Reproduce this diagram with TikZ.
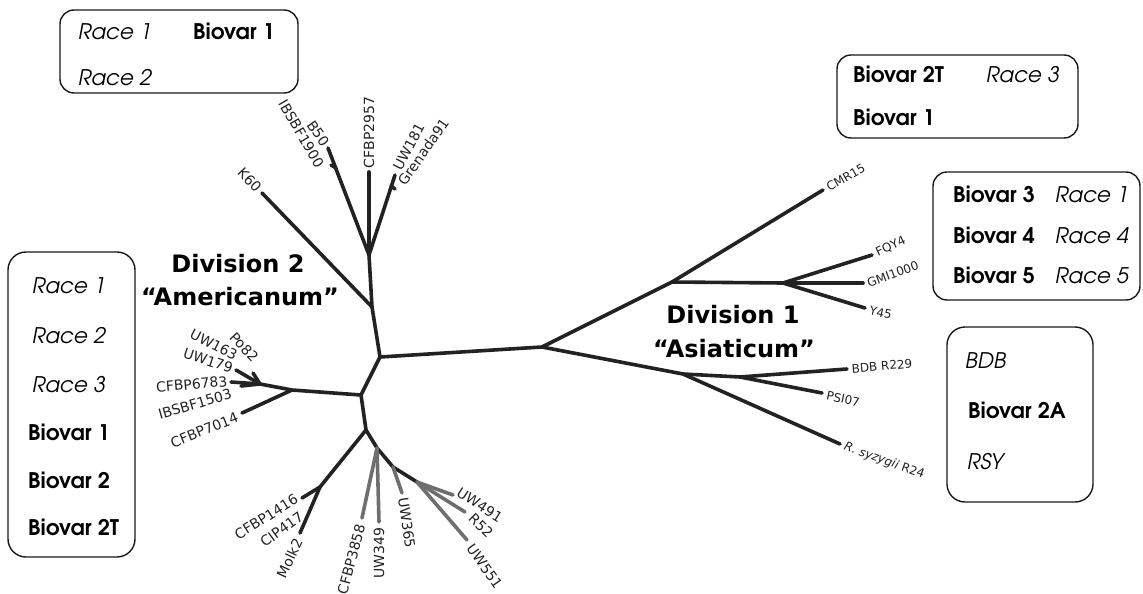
\documentclass[tikz,border=0pt]{standalone}
\usepackage{fontspec}
\newfontfamily\boxfont{texgyreadventor}[Extension=.otf, UprightFont=*-regular, BoldFont=*-bold, ItalicFont=*-italic, BoldItalicFont=*-bolditalic]
\newfontfamily\labfont{DejaVu Sans}
\definecolor{treec}{HTML}{222222}
\definecolor{treeg}{HTML}{6E6E6E}
\tikzset{
  br/.style={line width=3.6pt, draw=treec, line cap=round},
  brg/.style={br, draw=treeg},
  lab/.style={font=\labfont\fontsize{14}{16}\selectfont, inner sep=1.5pt, text=treec},
  labr/.style={font=\labfont\fontsize{12}{14}\selectfont, inner sep=1.5pt, text=treec},
  divl/.style={font=\labfont\bfseries\fontsize{24}{28}\selectfont, anchor=base, inner sep=0pt},
  boxst/.style={draw=black!90, line width=1.4pt, rounded corners=14pt},
  rc/.style={font=\boxfont\itshape\fontsize{21.5}{25}\selectfont, anchor=base west, inner sep=0pt},
  bv/.style={font=\boxfont\bfseries\fontsize{21.5}{25}\selectfont, anchor=base west, inner sep=0pt}
}
\begin{document}
\begin{tikzpicture}[x=1pt,y=-1pt]
\useasboundingbox (0,0) rectangle (1143,594);
% ---------- tree points ----------
\coordinate (A) at (380,357);
\coordinate (B) at (542,347);
\coordinate (C) at (372,307);
\coordinate (D) at (369,255);
\coordinate (G) at (361,395);
\coordinate (E) at (292,390);
\coordinate (E1) at (260,384);
\coordinate (F) at (366,430);
\coordinate (H) at (320,487);
\coordinate (I) at (377,448);
\coordinate (J) at (393,467);
\coordinate (K) at (417,482);
\coordinate (M) at (672,282);
\coordinate (L) at (783,283);
\coordinate (N) at (683,374);
\coordinate (O) at (740,377);
\coordinate (bB) at (336,168);
\coordinate (bU) at (391,186);
% tips
\coordinate (tK60) at (262,193);
\coordinate (tB50) at (328,148);
\coordinate (tIB1900) at (331,165);
\coordinate (tCF2957) at (369,172);
\coordinate (tUW181) at (395,175);
\coordinate (tGren) at (395,189);
\coordinate (tUW179) at (236,370);
\coordinate (tPo82) at (253,373);
\coordinate (tCF6783) at (231,382);
\coordinate (tIB1503) at (241,386);
\coordinate (tCF7014) at (242,413);
\coordinate (tCF1416) at (302,498);
\coordinate (tMolk) at (300,533);
\coordinate (tCF3858) at (362,518);
\coordinate (tUW349) at (379,522);
\coordinate (tUW365) at (402,493);
\coordinate (tUW491) at (453,495);
\coordinate (tR52) at (465,512);
\coordinate (tUW551) at (467,540);
\coordinate (tCMR) at (823,190);
\coordinate (tFQY) at (872,255);
\coordinate (tGMI) at (863,283);
\coordinate (tY45) at (865,308);
\coordinate (tBDB) at (847,369);
\coordinate (tPSI) at (822,393);
\coordinate (tRsy) at (840,444);
% ---------- branches ----------
\draw[br] (A) -- (B);
\draw[br] (A) -- (C) -- (D);
\draw[br] (C) -- (tK60);
\draw[br] (D) -- (tB50);
\draw[br] (bB) -- (tIB1900);
\draw[br] (D) -- (tCF2957);
\draw[br] (D) -- (tUW181);
\draw[br] (bU) -- (tGren);
\draw[br] (A) -- (G) -- (F);
\draw[br] (G) -- (E) -- (E1);
\draw[br] (E1) -- (tUW179);
\draw[br] (E1) -- (tPo82);
\draw[br] (E1) -- (tCF6783);
\draw[br] (E1) -- (tIB1503);
\draw[br] (E) -- (tCF7014);
\draw[br] (F) -- (H);
\draw[br] (H) -- (tCF1416);
\draw[br] (H) -- (tMolk);
\draw[br] (F) -- (I) -- (J) -- (K);
\draw[brg] (I) -- (tCF3858);
\draw[brg] (I) -- (tUW349);
\draw[brg] (J) -- (tUW365);
\draw[brg] (K) -- (tUW491);
\draw[brg] (K) -- (tR52);
\draw[brg] (K) -- (tUW551);
\draw[br] (B) -- (M) -- (tCMR);
\draw[br] (M) -- (L);
\draw[br] (L) -- (tFQY);
\draw[br] (L) -- (tGMI);
\draw[br] (L) -- (tY45);
\draw[br] (B) -- (N) -- (O);
\draw[br] (O) -- (tBDB);
\draw[br] (O) -- (tPSI);
\draw[br] (N) -- (tRsy);
% ---------- leaf labels ----------
\node[lab, rotate=-47, anchor=east] (lK60) at (260,191) {K60};
\node[lab, rotate=-55, anchor=east] (lB50) at (327,146) {B50};
\node[lab, rotate=-60, anchor=east] (lIB1900) at (321,168) {IBSBF1900};
\node[lab, rotate=90, anchor=west] (lCF2957) at (369,170) {CFBP2957};
\node[lab, rotate=62, anchor=west] (lUW181) at (396,171) {UW181};
\node[lab, rotate=55, anchor=west] (lGren) at (400,185) {Grenada91};
\node[lab, rotate=-47, anchor=east] (lPo82) at (257,361) {Po82};
\node[lab, rotate=-27, anchor=east] (lUW163) at (238,357) {UW163};
\node[lab, rotate=-18, anchor=east] (lUW179) at (234,369) {UW179};
\node[lab, rotate=5, anchor=east] (lCF6783) at (229,381) {CFBP6783};
\node[lab, rotate=16, anchor=east] (lIB1503) at (233,393) {IBSBF1503};
\node[lab, rotate=22, anchor=east] (lCF7014) at (239,416) {CFBP7014};
\node[lab, rotate=32, anchor=east] (lCF1416) at (298,497) {CFBP1416};
\node[lab, rotate=36, anchor=east] (lCIP) at (303,514) {CIP417};
\node[lab, rotate=65, anchor=east] (lMolk) at (299,538) {Molk2};
\node[lab, rotate=75, anchor=east] (lCF3858) at (361,523) {CFBP3858};
\node[lab, rotate=90, anchor=east] (lUW349) at (379,526) {UW349};
\node[lab, rotate=-82, anchor=west] (lUW365) at (403,496) {UW365};
\node[lab, rotate=-33, anchor=west] (lUW491) at (457,490) {UW491};
\node[lab, rotate=-45, anchor=west] (lR52) at (470,515) {R52};
\node[lab, rotate=-55, anchor=west] (lUW551) at (469,544) {UW551};
\node[labr, rotate=30, anchor=west] (lCMR) at (826,189) {CMR15};
\node[labr, rotate=25, anchor=west] (lFQY) at (875,254) {FQY4};
\node[labr, rotate=20, anchor=west] (lGMI) at (866,284) {GMI1000};
\node[labr, rotate=-12, anchor=west] (lY45) at (868,310) {Y45};
\node[labr, rotate=5, anchor=west] (lBDB) at (850,369) {BDB R229};
\node[labr, rotate=-12, anchor=west] (lPSI) at (825,395) {PSI07};
\node[labr, rotate=-20, anchor=west] (lRsy) at (843,446) {\textit{R. syzygii} R24};
% ---------- division labels ----------
\node[divl] (d2a) at (238,272) {Division 2};
\node[divl] (d2b) at (240,305) {“Americanum”};
\node[divl] (d1a) at (733,323) {Division 1};
\node[divl] (d1b) at (734,357) {“Asiaticum”};
% ---------- boxes ----------
\node[boxst, minimum width=238pt, minimum height=83pt] (box1) at (179,51.5) {};
\node[rc] (b1r1) at (78,40) {Race 1};
\node[bv] (b1b1) at (193,40) {Biovar 1};
\node[rc] (b1r2) at (78,85) {Race 2};
\node[boxst, rounded corners=18pt, minimum width=127pt, minimum height=305pt] (box2) at (71.5,404.5) {};
\node[rc] (b2r1) at (32,293) {Race 1};
\node[rc] (b2r2) at (32,343) {Race 2};
\node[rc] (b2r3) at (32,392) {Race 3};
\node[bv] (b2b1) at (28,440) {Biovar 1};
\node[bv] (b2b2) at (28,488) {Biovar 2};
\node[bv] (b2b3) at (28,535) {Biovar 2T};
\node[boxst, minimum width=241pt, minimum height=83pt] (box3) at (957.5,96.5) {};
\node[bv] (b3b1) at (853,82) {Biovar 2T};
\node[rc] (b3r1) at (986,82) {Race 3};
\node[bv] (b3b2) at (853,125) {Biovar 1};
\node[boxst, minimum width=207pt, minimum height=128pt] (box4) at (1036.5,236) {};
\node[bv] (b4b1) at (953,202) {Biovar 3};
\node[rc] (b4r1) at (1055,202) {Race 1};
\node[bv] (b4b2) at (953,243) {Biovar 4};
\node[rc] (b4r2) at (1055,243) {Race 4};
\node[bv] (b4b3) at (953,283) {Biovar 5};
\node[rc] (b4r3) at (1055,283) {Race 5};
\node[boxst, rounded corners=18pt, minimum width=146pt, minimum height=175pt] (box5) at (1020,414.5) {};
\node[rc] (b5r1) at (965,368) {BDB};
\node[bv] (b5b1) at (968,418) {Biovar 2A};
\node[rc] (b5r2) at (967,469) {RSY};
\end{tikzpicture}
\end{document}
